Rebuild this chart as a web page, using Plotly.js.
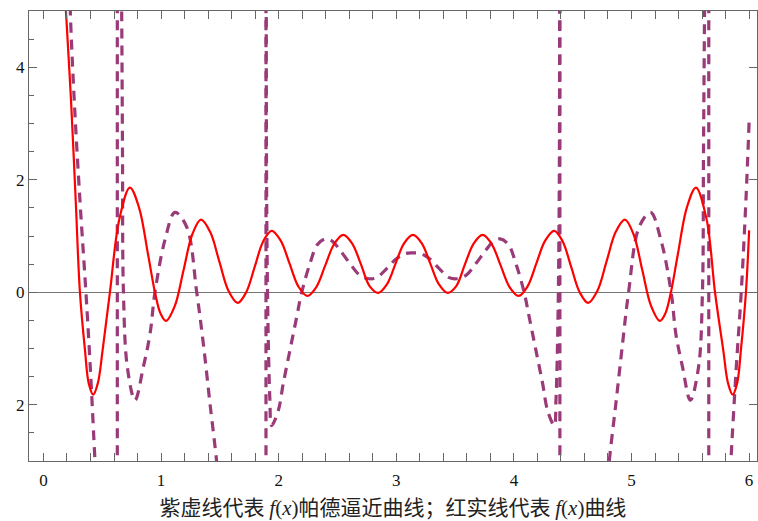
<!DOCTYPE html>
<html>
<head>
<meta charset="utf-8">
<script src="https://cdn.plot.ly/plotly-3.0.1.min.js"></script>
<style>html,body{margin:0;padding:0;background:#fff;}</style>
</head>
<body>
<div id="chart" style="width:758px;height:521px;"></div>
<script>
// Red solid curve f(x)
const redX = [0.178, 0.191, 0.234, 0.274, 0.310, 0.353, 0.385, 0.423, 0.462, 0.503, 0.565, 0.645, 0.735, 0.812, 0.889, 0.948, 0.996, 1.042, 1.116, 1.191, 1.265, 1.339, 1.417, 1.495, 1.573, 1.651, 1.723, 1.796, 1.868, 1.940, 2.016, 2.092, 2.167, 2.243, 2.320, 2.396, 2.473, 2.549, 2.624, 2.698, 2.773, 2.847, 2.920, 2.993, 3.066, 3.142,
  3.217, 3.290, 3.363, 3.436, 3.510, 3.585, 3.659, 3.734, 3.810, 3.887, 3.963, 4.040, 4.116, 4.191, 4.267, 4.343, 4.415, 4.487, 4.560, 4.632, 4.710, 4.788, 4.866, 4.944, 5.018, 5.092, 5.167, 5.241, 5.287, 5.335, 5.394, 5.471, 5.548, 5.638, 5.710, 5.780, 5.821, 5.860, 5.898, 5.930, 5.973, 6.000];
const redY = [5.6, 5.0, 3.42, 1.64, 0.0, -1.03, -1.62, -1.82, -1.62, -1.03, 0.0, 1.30, 1.86, 1.51, 0.675, 0.0, -0.38, -0.51, -0.247, 0.39, 1.027, 1.29, 1.074, 0.55, 0.026, -0.19, -0.003, 0.45, 0.903, 1.09, 0.921, 0.512, 0.104, -0.065, 0.093, 0.478, 0.862, 1.02, 0.870, 0.505, 0.110, -0.01, 0.140, 0.505, 0.870, 1.02,
  0.870, 0.505, 0.140, -0.01, 0.110, 0.505, 0.870, 1.02, 0.862, 0.478, 0.093, -0.065, 0.104, 0.512, 0.921, 1.09, 0.903, 0.45, -0.003, -0.19, 0.026, 0.55, 1.074, 1.29, 1.027, 0.39, -0.247, -0.51, -0.38, 0.0, 0.675, 1.51, 1.86, 1.30, 0.0, -1.03, -1.62, -1.82, -1.62, -1.03, 0.0, 1.10];

// Purple dashed Pade approximant, branch by branch
const padeAx = [0.218, 0.228, 0.262, 0.310, 0.361, 0.398, 0.438, 0.458];
const padeAy = [6.0, 5.0, 3.4, 1.64, 0.0, -1.33, -3.0, -3.8];

const padeBx = [0.659, 0.665, 0.672, 0.680, 0.713, 0.778, 0.849, 0.906, 0.948, 1.033, 1.118, 1.218, 1.303, 1.359, 1.416, 1.473, 1.495];
const padeBy = [6.2, 5.0, 2.5, 0.0, -1.33, -1.92, -1.33, -0.74, 0.0, 0.93, 1.42, 1.16, 0.0, -0.91, -1.98, -3.02, -3.6];

const padeCx = [1.894, 1.897, 1.905, 1.915, 1.925, 1.940, 1.997, 2.039, 2.096, 2.153, 2.196, 2.266, 2.330, 2.400, 2.460, 2.521, 2.606, 2.691, 2.770, 2.833, 2.918, 3.003, 3.080, 3.142, 3.204, 3.280, 3.365, 3.450, 3.513, 3.592, 3.677, 3.762, 3.823, 3.883, 3.953, 4.017, 4.087, 4.130, 4.187, 4.244, 4.286, 4.343, 4.358, 4.368, 4.378, 4.386, 4.389];
const padeCy = [5.5, 2.0, 0.0, -1.2, -1.9, -2.37, -2.10, -1.62, -1.03, -0.44, 0.0, 0.51, 0.85, 0.95, 0.90, 0.75, 0.51, 0.30, 0.24, 0.26, 0.42, 0.60, 0.69, 0.70, 0.69, 0.60, 0.42, 0.26, 0.24, 0.30, 0.51, 0.75, 0.90, 0.95, 0.85, 0.51, 0.0, -0.44, -1.03, -1.62, -2.10, -2.37, -1.9, -1.2, 0.0, 2.0, 5.5];

const padeDx = [4.788, 4.810, 4.867, 4.924, 4.975, 5.065, 5.162, 5.250, 5.337, 5.377, 5.434, 5.500, 5.570, 5.603, 5.612, 5.621, 5.627];
const padeDy = [-3.6, -3.02, -1.98, -0.91, 0.0, 1.16, 1.42, 0.93, 0.0, -0.74, -1.33, -1.92, -1.33, 0.0, 2.5, 5.0, 6.2];

const padeEx = [5.825, 5.845, 5.891, 5.933, 5.973, 6.000];
const padeEy = [-3.8, -3.0, -1.33, 0.0, 1.64, 3.03];

// x positions of the vertical jumps (poles)
const poleX = [0.628, 1.892, 4.391, 5.657];

// tick labels as printed
const yTickVals = [-2, 0, 2, 4];
const yTickText = ['2', '0', '2', '4'];
const xTickVals = [0, 1, 2, 3, 4, 5, 6];
const xTickText = ['0', '1', '2', '3', '4', '5', '6'];

const yRange = [-3, 5];

// assemble the dashed trace
let px = [], py = [];
[[padeAx, padeAy], [padeBx, padeBy], [padeCx, padeCy], [padeDx, padeDy], [padeEx, padeEy]].forEach(b => {
  px = px.concat(b[0], [null]);
  py = py.concat(b[1], [null]);
});
poleX.forEach(p => {
  px.push(p, p, null);
  py.push(yRange[0] - 0.5, yRange[1] + 0.5, null);
});

const purple = '#9a3a78';
const frame = '#666666';

const traces = [
  {x: px, y: py, mode: 'lines', connectgaps: false,
   line: {color: purple, width: 3.2, dash: '10px,7px', shape: 'spline', smoothing: 1},
   hoverinfo: 'skip', showlegend: false},
  {x: redX, y: redY, mode: 'lines',
   line: {color: '#ff0000', width: 2.2, shape: 'spline', smoothing: 1},
   hoverinfo: 'skip', showlegend: false},
  {x: [], y: [], yaxis: 'y2', showlegend: false, hoverinfo: 'skip'}
];

const fx = '<span style="font-family:Liberation Serif"><i>f</i>(<i>x</i>)</span>';

const layout = {
  width: 758, height: 521,
  margin: {l: 29, r: 1, t: 11, b: 60},
  paper_bgcolor: '#ffffff', plot_bgcolor: '#ffffff',
  showlegend: false,
  xaxis: {
    range: [-0.123, 6.067],
    tickvals: xTickVals, ticktext: xTickText,
    ticks: 'inside', ticklen: 8, tickcolor: frame, tickwidth: 1,
    minor: {dtick: 0.2, tick0: 0, ticks: 'inside', ticklen: 4, tickcolor: frame, tickwidth: 1, showgrid: false},
    showline: true, linecolor: frame, linewidth: 1, mirror: 'allticks',
    showgrid: false, zeroline: false,
    ticklabelstandoff: 4,
    tickfont: {family: 'Liberation Serif', size: 17, color: '#111'},
    title: {text: '紫虚线代表 ' + fx + '帕德逼近曲线；红实线代表 ' + fx + '曲线',
            font: {family: 'Noto Sans CJK SC', size: 21, color: '#222'}, standoff: 11},
    automargin: false, fixedrange: true
  },
  yaxis: {
    range: yRange,
    tickvals: yTickVals, ticktext: yTickText,
    ticks: 'inside', ticklen: 8, tickcolor: frame, tickwidth: 1,
    minor: {dtick: 0.5, tick0: 0, ticks: 'inside', ticklen: 5, tickcolor: frame, tickwidth: 1, showgrid: false},
    showline: true, linecolor: frame, linewidth: 1, mirror: true,
    showgrid: false, zeroline: true, zerolinecolor: '#777777', zerolinewidth: 1,
    tickfont: {family: 'Liberation Serif', size: 17, color: '#111'},
    automargin: false, fixedrange: true
  },
  yaxis2: {
    range: yRange, overlaying: 'y', side: 'right',
    tickvals: yTickVals, showticklabels: false,
    ticks: 'inside', ticklen: 8, tickcolor: frame,
    showline: false, showgrid: false, zeroline: false, fixedrange: true
  },
  hovermode: false
};

Plotly.newPlot('chart', traces, layout, {displayModeBar: false, staticPlot: true});
</script>
</body>
</html>
